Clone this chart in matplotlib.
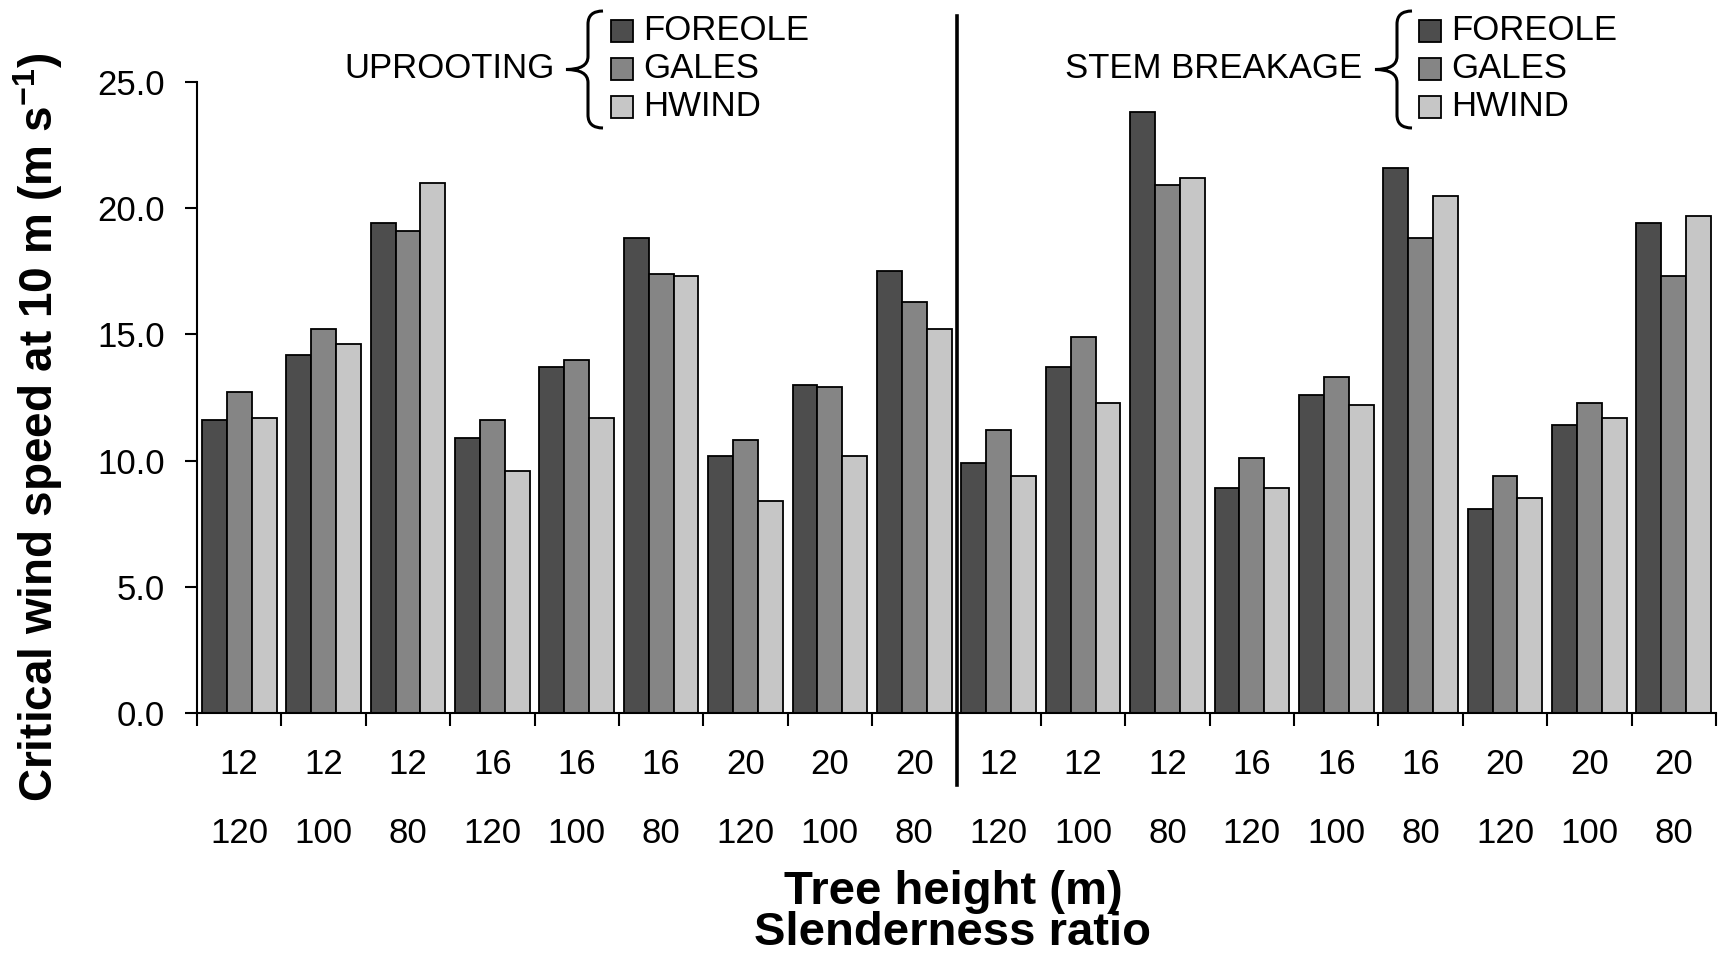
import matplotlib
matplotlib.use("Agg")
import matplotlib.pyplot as plt
from matplotlib.path import Path
from matplotlib.patches import PathPatch, Rectangle
import numpy as np

plt.rcParams['font.family'] = ['Liberation Sans', 'DejaVu Sans']
plt.rcParams['mathtext.fontset'] = 'custom'
plt.rcParams['mathtext.rm'] = 'Liberation Sans'
plt.rcParams['mathtext.bf'] = 'Liberation Sans:bold'

# données
heights = [12, 12, 12, 16, 16, 16, 20, 20, 20] * 2
slenderness = [120, 100, 80] * 6
models = ["FOREOLE", "GALES", "HWIND"]
colors = ["#4d4d4d", "#858585", "#c6c6c6"]

foreole = [11.6, 14.2, 19.4, 10.9, 13.7, 18.8, 10.2, 13.0, 17.5,
           9.9, 13.7, 23.8, 8.9, 12.6, 21.6, 8.1, 11.4, 19.4]
gales = [12.7, 15.2, 19.1, 11.6, 14.0, 17.4, 10.8, 12.9, 16.3,
         11.2, 14.9, 20.9, 10.1, 13.3, 18.8, 9.4, 12.3, 17.3]
hwind = [11.7, 14.6, 21.0, 9.6, 11.7, 17.3, 8.4, 10.2, 15.2,
         9.4, 12.3, 21.2, 8.9, 12.2, 20.5, 8.5, 11.7, 19.7]
series = [foreole, gales, hwind]

W, H = 1718, 955
fig = plt.figure(figsize=(W / 100, H / 100), dpi=100)
ax = fig.add_axes([197 / W, 1 - 713 / H, (1716 - 197) / W, (713 - 82) / H])

n = len(heights)
x = np.arange(n) + 0.5
bw = 0.295
for k, (vals, c) in enumerate(zip(series, colors)):
    ax.bar(x + (k - 1) * bw, vals, width=bw, color=c, edgecolor="black",
           linewidth=1.3, zorder=2)

ax.set_xlim(0, n)
ax.set_ylim(0, 25)
ax.set_yticks(np.arange(0, 25.1, 5))
ax.set_yticklabels([f"{v:.1f}" for v in np.arange(0, 25.1, 5)])
ax.set_xticks(x)
ax.set_xticklabels([f"{h}\n{s}" for h, s in zip(heights, slenderness)])
ax.set_xticks(np.arange(0, n + 1), minor=True)
ax.tick_params(axis="x", which="major", length=0, pad=25, labelsize=25)
ax.tick_params(axis="x", which="minor", length=9, width=1.5, direction="out")
ax.tick_params(axis="y", length=9, width=1.5, pad=14, labelsize=25)
for lab in ax.get_xticklabels():
    lab.set_linespacing(2.4)

for s in ["top", "right"]:
    ax.spines[s].set_visible(False)
for s in ["left", "bottom"]:
    ax.spines[s].set_linewidth(1.5)

# ligne de séparation
ax.axvline(9, ymin=-0.114, ymax=1.105, color="black", lw=2.6, clip_on=False, zorder=3)

fig.text(953 / W, 1 - 892 / H, "Tree height (m)", ha="center", va="center",
         fontsize=34, fontweight="bold")
fig.text(953 / W, 1 - 933 / H, "Slenderness ratio", ha="center", va="center",
         fontsize=34, fontweight="bold")
fig.text(38 / W, 1 - 427 / H, r"Critical wind speed at 10 m (m s$^{\mathbf{-1}}$)",
         rotation=90, ha="center", va="center", fontsize=33, fontweight="bold")


def px(xp, yp):
    return (xp / W, 1 - yp / H)


def brace(xt, xm, xr, yt, yb, r=13):
    yc = (yt + yb) / 2
    verts = [px(xr, yt), px(xm, yt), px(xm, yt + r),
             px(xm, yc - r),
             px(xm, yc), px(xt, yc),
             px(xm, yc), px(xm, yc + r),
             px(xm, yb - r),
             px(xm, yb), px(xr, yb)]
    codes = [Path.MOVETO, Path.CURVE3, Path.CURVE3,
             Path.LINETO,
             Path.CURVE3, Path.CURVE3,
             Path.CURVE3, Path.CURVE3,
             Path.LINETO,
             Path.CURVE3, Path.CURVE3]
    fig.add_artist(PathPatch(Path(verts, codes), transform=fig.transFigure,
                             fill=False, lw=2.2, edgecolor="black"))


def legend_block(title, title_right, brace_x, sq_x):
    fig.text(*px(title_right, 69), title, ha="right", va="center", fontsize=25)
    brace(brace_x, brace_x + 22, brace_x + 37, 11, 128)
    for i, (m, c) in enumerate(zip(models, colors)):
        yc = 31 + 38 * i
        fig.add_artist(Rectangle(px(sq_x, yc + 11), 22 / W, 22 / H,
                                 transform=fig.transFigure, facecolor=c,
                                 edgecolor="black", lw=1.3))
        fig.text(*px(sq_x + 32, yc), m, ha="left", va="center", fontsize=25)


legend_block("UPROOTING", 555, 566, 611)
legend_block("STEM BREAKAGE", 1362, 1375, 1419)

fig.savefig("out.png", dpi=100)
